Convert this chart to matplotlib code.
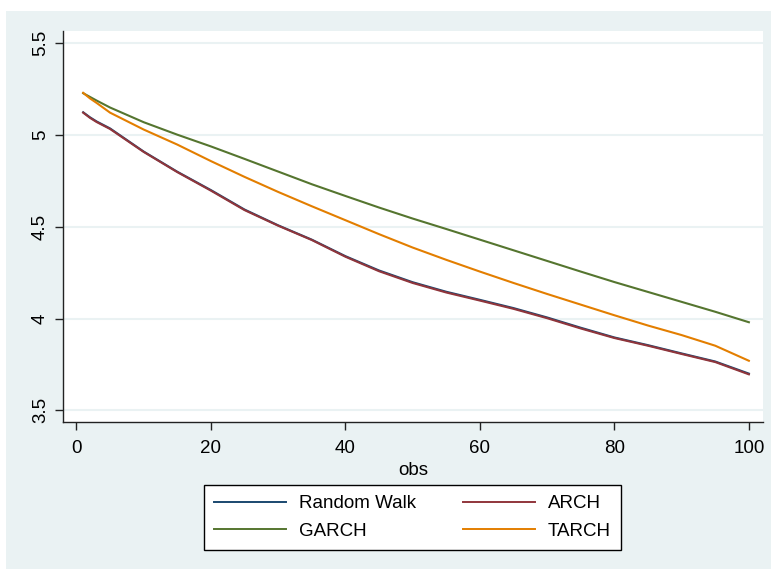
import matplotlib
matplotlib.use("Agg")
import matplotlib.pyplot as plt
from matplotlib.patches import Rectangle

plt.rcParams['font.family'] = ['Liberation Sans', 'DejaVu Sans']

obs = [1, 2, 3, 5, 10, 15, 20, 25, 30, 35, 40, 45, 50, 55, 60, 65, 70, 75, 80, 85, 90, 95, 100]
random_walk = [5.124, 5.097, 5.074, 5.036, 4.910, 4.800, 4.700, 4.594, 4.508, 4.430, 4.340,
               4.262, 4.198, 4.146, 4.102, 4.057, 4.006, 3.950, 3.897, 3.855, 3.810, 3.766, 3.700]
arch = [5.122, 5.094, 5.071, 5.033, 4.908, 4.798, 4.697, 4.591, 4.506, 4.428, 4.337,
        4.258, 4.194, 4.142, 4.098, 4.053, 4.002, 3.946, 3.894, 3.852, 3.807, 3.763, 3.696]
garch = [5.228, 5.208, 5.188, 5.150, 5.070, 5.002, 4.938, 4.870, 4.801, 4.732, 4.668,
         4.605, 4.545, 4.488, 4.430, 4.372, 4.314, 4.256, 4.199, 4.145, 4.091, 4.037, 3.980]
tarch = [5.230, 5.200, 5.175, 5.122, 5.030, 4.948, 4.858, 4.772, 4.690, 4.612, 4.536,
         4.460, 4.387, 4.320, 4.256, 4.194, 4.134, 4.076, 4.018, 3.962, 3.910, 3.852, 3.770]

series_names = ["Random Walk", "ARCH", "GARCH", "TARCH"]
colors = ["#1a476f", "#90353b", "#55752f", "#e37e00"]
yticks = [3.5, 4, 4.5, 5, 5.5]
yticklabels = ["3.5", "4", "4.5", "5", "5.5"]
xticks = [0, 20, 40, 60, 80, 100]

W, H = 771, 569
fig = plt.figure(figsize=(W / 100, H / 100), dpi=100)
fig.patch.set_facecolor("white")
bg = "#eaf2f3"
fig.add_artist(Rectangle((6 / W, 0), 1 - 6 / W, 1 - 11 / H, transform=fig.transFigure,
                         facecolor=bg, edgecolor="none", zorder=-10))

ax = fig.add_axes([63 / W, 1 - 421.7 / H, (763 - 63) / W, (421.7 - 31) / H])
ax.set_facecolor("white")
ax.set_zorder(1)

handles = []
for vals, name, c in zip([random_walk, arch, garch, tarch], series_names, colors):
    h, = ax.plot(obs, vals, color=c, lw=1.5, label=name, zorder=3)
    handles.append(h)

ax.set_xlim(-2.0, 102.1)
ax.set_ylim(3.438, 5.567)
ax.set_yticks(yticks)
ax.set_yticklabels(yticklabels, rotation=90, va="center")
ax.set_xticks(xticks)
for y in yticks:
    ax.axhline(y, color=bg, lw=1.5, zorder=1)

for s in ["top", "right"]:
    ax.spines[s].set_visible(False)
for s in ["left", "bottom"]:
    ax.spines[s].set_color("#222222")
    ax.spines[s].set_linewidth(1.0)
ax.tick_params(axis="both", direction="out", length=6, width=1.0, colors="#222222",
               labelsize=13.5, labelcolor="black")
ax.tick_params(axis="y", pad=4)
ax.tick_params(axis="x", pad=7)
ax.set_xlabel("obs", fontsize=13.5, labelpad=4)

order = [0, 2, 1, 3]
leg = fig.legend([handles[i] for i in order], [series_names[i] for i in order],
                 ncol=2, loc="center", bbox_to_anchor=((205.7 + 619.3) / 2 / W, 1 - 517.5 / H),
                 fontsize=13.5, frameon=True, fancybox=False, edgecolor="black",
                 facecolor="white", framealpha=1.0,
                 handlelength=3.85, handletextpad=0.7, columnspacing=2.45,
                 labelspacing=0.55, borderpad=0.55)
leg.get_frame().set_linewidth(1.0)
leg.set_zorder(5)
for line in leg.get_lines():
    line.set_linewidth(1.4)

fig.savefig("out.png", dpi=100, facecolor=fig.get_facecolor())
